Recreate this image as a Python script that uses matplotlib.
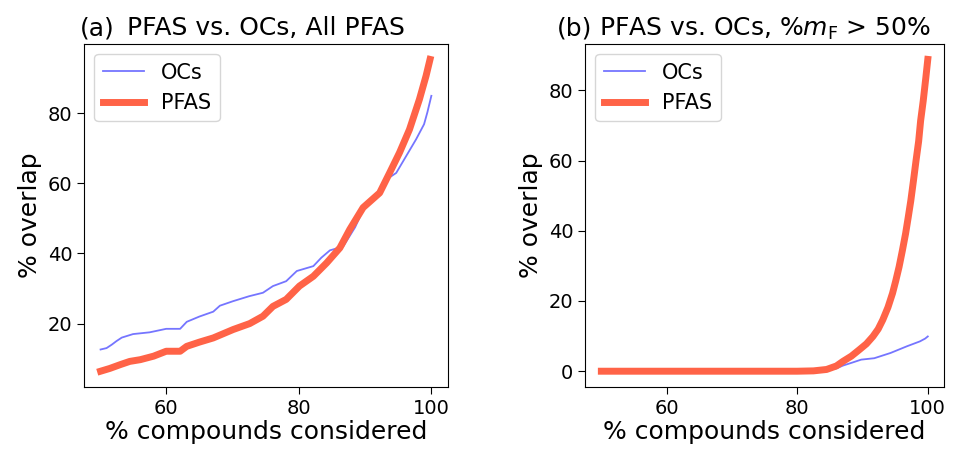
import matplotlib
matplotlib.use("Agg")
import matplotlib.pyplot as plt
import numpy as np

# (a) All PFAS
a_ocs_x = [50.1, 51.0, 51.8, 52.5, 53.3, 55.0, 57.5, 60.0, 62.1, 63.1, 65.0, 67.1, 68.1, 70.1,
           72.5, 74.6, 76.1, 78.1, 79.7, 82.2, 83.4, 84.7, 86.7, 88.5, 90.2, 92.2, 93.2,
           94.7, 96.2, 97.7, 98.9, 99.4, 100.0]
a_ocs_y = [12.6, 13.0, 14.0, 15.0, 16.0, 17.0, 17.5, 18.5, 18.5, 20.5, 22.0, 23.4, 25.1, 26.4,
           27.8, 28.8, 30.7, 32.1, 35.0, 36.4, 38.8, 40.9, 42.0, 47.5, 54.5, 57.3, 61.1,
           63.0, 67.8, 72.6, 76.9, 80.3, 85.0]
a_pfas_x = [50.1, 51.5, 53.1, 54.5, 56.1, 58.1, 60.0, 62.1, 63.1, 65.0, 67.1, 70.1, 72.6, 74.6,
            76.1, 78.1, 80.1, 82.2, 84.2, 86.2, 87.7, 89.7, 92.2, 93.7, 95.2, 96.7, 98.2,
            99.2, 99.8]
a_pfas_y = [6.4, 7.2, 8.3, 9.2, 9.7, 10.7, 12.1, 12.1, 13.5, 14.7, 15.9, 18.3, 20.0, 22.1,
            24.9, 26.9, 30.7, 33.5, 37.3, 41.6, 46.9, 53.1, 57.3, 63.0, 68.8, 75.4, 84.0,
            90.7, 95.4]

# (b) %mF > 50%
b_ocs_x = [50.0, 60.0, 70.0, 80.0, 84.0, 86.0, 87.0, 88.5, 89.8, 91.8, 94.3, 96.8, 98.8, 99.6, 100.0]
b_ocs_y = [0.0, 0.0, 0.0, 0.0, 0.2, 0.8, 1.6, 2.5, 3.3, 3.7, 5.2, 7.1, 8.5, 9.3, 9.9]
b_pfas_x = [50.0, 60.0, 70.0, 80.0, 82.5, 84.5, 86.0, 87.0, 88.3, 89.5, 90.6, 91.6, 92.4, 93.1,
            93.9, 94.6, 95.1, 95.6, 96.1, 96.6, 97.0, 97.4, 97.8, 98.2, 98.6, 98.9, 99.3,
            99.7, 100.0]
b_pfas_y = [0.0, 0.0, 0.0, 0.0, 0.1, 0.5, 1.5, 2.8, 4.3, 6.1, 7.8, 9.9, 12.0, 14.6,
            18.2, 22.2, 25.8, 29.7, 34.3, 39.2, 43.8, 48.6, 54.2, 60.0, 65.5, 71.3, 77.0,
            83.6, 88.8]

ocs_color = "#7575ff"
pfas_color = "#ff6347"

fig = plt.figure(figsize=(9.55, 4.54), dpi=100)
ax1 = fig.add_axes([0.088, 0.148, 0.381, 0.7555])
ax2 = fig.add_axes([0.6126, 0.148, 0.376, 0.7555])

panels = [
    (ax1, a_ocs_x, a_ocs_y, a_pfas_x, a_pfas_y, "(a)", "PFAS vs. OCs, All PFAS", -0.011),
    (ax2, b_ocs_x, b_ocs_y, b_pfas_x, b_pfas_y, "(b)", r"PFAS vs. OCs, %$m_\mathrm{F}$ > 50%", -0.078),
]

for ax, ox, oy, px, py, tag, title, tag_x in panels:
    ax.plot(ox, oy, color=ocs_color, lw=1.3, label="OCs")
    ax.plot(px, py, color=pfas_color, lw=5, label="PFAS")
    ax.set_xticks([60, 80, 100])
    ax.set_yticks([0, 20, 40, 60, 80] if ax is ax2 else [20, 40, 60, 80])
    ax.tick_params(labelsize=14, length=5)
    ax.set_xlabel("% compounds considered", fontsize=18, labelpad=2)
    ax.set_ylabel("% overlap", fontsize=18)
    ax.set_title(title, fontsize=18)
    ax.set_title(tag, fontsize=18, loc="left", x=tag_x)
    ax.legend(loc="upper left", fontsize=15)

plt.savefig("out.png", dpi=100)
